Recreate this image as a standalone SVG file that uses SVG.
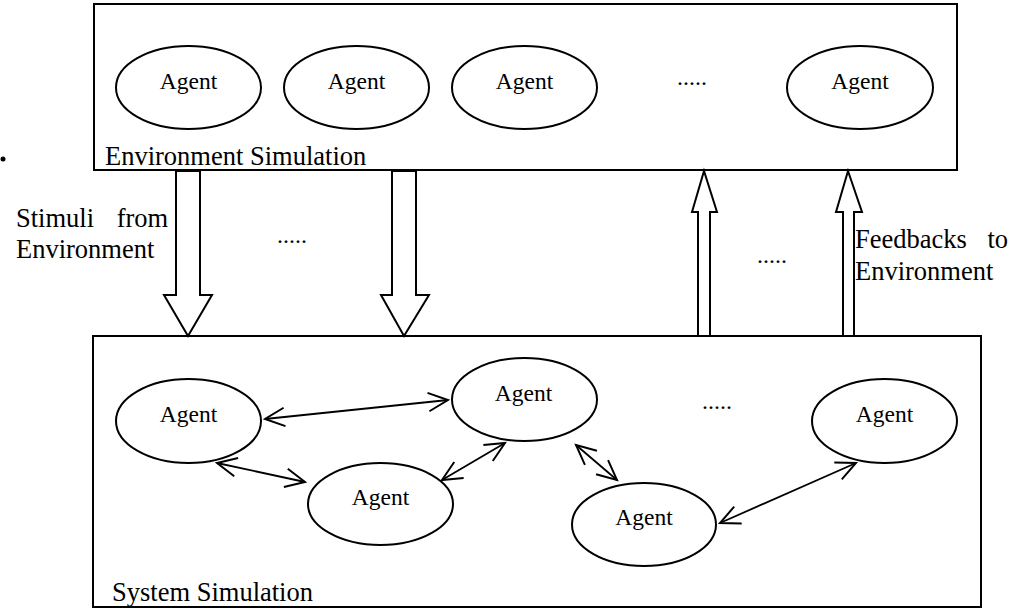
<svg xmlns="http://www.w3.org/2000/svg" width="1022" height="610" viewBox="0 0 1022 610">
<style>
.box{fill:none;stroke:#000;stroke-width:2}
.ag{fill:#fff;stroke:#000;stroke-width:2}
.blk{fill:#fff;stroke:#000;stroke-width:2;stroke-linejoin:miter}
.con{fill:none;stroke:#000;stroke-width:1.8;marker-start:url(#v);marker-end:url(#v)}
.t{font-family:"Liberation Serif","Times New Roman",serif;font-size:23.5px;fill:#000;text-anchor:middle}
.lb{font-family:"Liberation Serif","Times New Roman",serif;font-size:26.5px;fill:#000}
.dots{font-family:"Liberation Serif","Times New Roman",serif;font-size:24px;fill:#000}
</style>
<defs>
<marker id="v" markerUnits="userSpaceOnUse" markerWidth="24" markerHeight="24" viewBox="-20 -10 22 20" refX="0" refY="0" orient="auto-start-reverse">
<path d="M-18,-8.5 L0,0 L-18,8.5" fill="none" stroke="#000" stroke-width="1.8"/>
</marker>
</defs>
<rect width="1022" height="610" fill="#fff"/>
<circle cx="3" cy="159" r="2.5" fill="#000"/>

<g id="env">
<rect class="box" x="94" y="4" width="863" height="166"/>
<text class="lb" x="105" y="165">Environment Simulation</text>
</g>
<g id="env-agent1"><ellipse class="ag" cx="188.5" cy="87.5" rx="72.5" ry="41.5"/><text class="t" x="188.5" y="88.5">Agent</text></g>
<g id="env-agent2"><ellipse class="ag" cx="356.5" cy="87.5" rx="72.5" ry="41.5"/><text class="t" x="356.5" y="88.5">Agent</text></g>
<g id="env-agent3"><ellipse class="ag" cx="524.5" cy="87.5" rx="72.5" ry="41.5"/><text class="t" x="524.5" y="88.5">Agent</text></g>
<text class="dots" x="677" y="85">.....</text>
<g id="env-agent4"><ellipse class="ag" cx="860" cy="87.5" rx="73" ry="41.5"/><text class="t" x="860" y="88.5">Agent</text></g>

<g id="sys">
<rect class="box" x="93" y="336" width="888" height="271"/>
<text class="lb" x="112" y="601">System Simulation</text>
</g>
<g id="sys-agent1"><ellipse class="ag" cx="188.5" cy="421" rx="72.5" ry="42"/><text class="t" x="188.5" y="422">Agent</text></g>
<g id="sys-agent2"><ellipse class="ag" cx="380.5" cy="504" rx="72.5" ry="41"/><text class="t" x="380.5" y="505">Agent</text></g>
<g id="sys-agent3"><ellipse class="ag" cx="524.5" cy="399.5" rx="72.5" ry="41.5"/><text class="t" x="523.5" y="401">Agent</text></g>
<g id="sys-agent4"><ellipse class="ag" cx="644" cy="524.5" rx="72" ry="41.5"/><text class="t" x="644" y="525">Agent</text></g>
<g id="sys-agent5"><ellipse class="ag" cx="884.5" cy="421" rx="72.5" ry="42"/><text class="t" x="884.5" y="422">Agent</text></g>
<text class="dots" x="702" y="409">.....</text>

<g id="connectors">
<polygon class="blk" points="176,171 176,295 164,295 188,336 212,295 200,295 200,171"/>
<polygon class="blk" points="392,171 392,295 381,295 404,336 429,295 416,295 416,171"/>
<polygon class="blk" points="698,336 698,212 692,212 704,171 717,212 710,212 710,336"/>
<polygon class="blk" points="843,336 843,212 836,212 848,171 862,212 854,212 854,336"/>
<line class="con" x1="265" y1="419" x2="448" y2="400"/>
<line class="con" x1="217" y1="463" x2="305" y2="482"/>
<line class="con" x1="442" y1="480" x2="505" y2="443"/>
<line class="con" x1="576" y1="445" x2="617" y2="480"/>
<line class="con" x1="720" y1="523" x2="856" y2="463"/>
</g>

<text class="lb" x="16" y="227" word-spacing="16">Stimuli from</text>
<text class="lb" x="16" y="258">Environment</text>
<text class="dots" x="277" y="243">.....</text>
<text class="dots" x="757" y="263">.....</text>
<text class="lb" x="855" y="248" word-spacing="14">Feedbacks to</text>
<text class="lb" x="855" y="280">Environment</text>
</svg>
